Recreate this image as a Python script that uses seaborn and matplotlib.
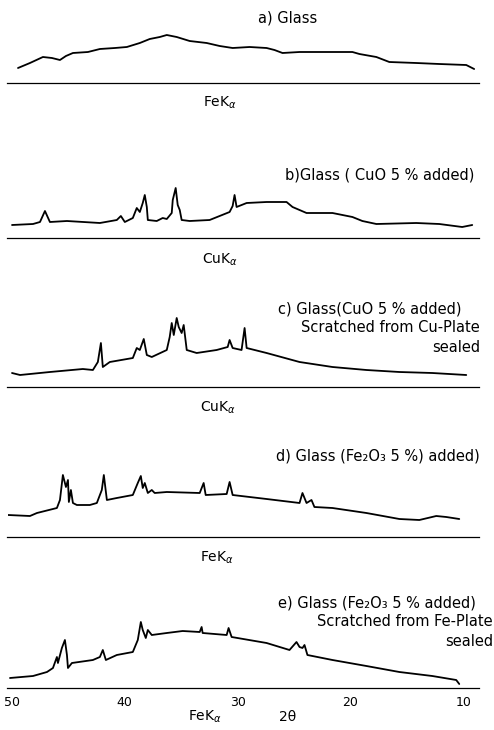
import matplotlib
matplotlib.use("Agg")
import matplotlib.pyplot as plt
import seaborn as sns
import pandas as pd

# 2-theta (deg) and relative intensity (arb. units)
a_tt = [49.47, 48.41, 47.26, 46.46, 45.75, 45.22, 44.60, 43.27, 42.21, 40.88, 39.82, 38.67, 37.79,
        36.90, 36.28, 35.84, 35.40, 34.25, 32.74, 31.59, 30.44, 28.94, 27.43, 26.73, 26.02, 24.51,
        23.01, 21.42, 19.82, 19.20, 17.70, 16.55, 14.16, 12.12, 9.73, 9.03]
a_int = [15, 20, 26, 25, 23, 27, 30, 31, 34, 35, 36, 40, 44,
         46, 48, 47, 46, 42, 40, 37, 35, 36, 35, 33, 30, 31,
         31, 31, 31, 29, 26, 21, 20, 19, 18, 14]

b_tt = [50.00, 48.14, 47.52, 47.08, 46.64, 45.13, 42.21, 40.71, 40.35, 40.00, 39.29, 38.94, 38.67,
        38.41, 38.23, 38.05, 37.96, 37.17, 36.64, 36.28, 35.84, 35.75, 35.49, 35.31, 35.13, 34.96,
        34.25, 32.48, 30.71, 30.44, 30.27, 30.09, 29.20, 27.43, 25.66, 25.13, 23.89, 21.59, 19.82,
        18.94, 17.70, 14.16, 12.12, 10.09, 9.20]
b_int = [13, 14, 16, 27, 16, 17, 15, 18, 22, 16, 20, 30, 26,
         35, 43, 31, 18, 17, 20, 19, 25, 38, 50, 33, 28, 18,
         17, 18, 26, 32, 43, 31, 35, 36, 36, 31, 25, 25, 21,
         17, 14, 15, 14, 11, 13]

c_tt = [50.00, 49.29, 46.64, 43.72, 42.83, 42.39, 42.12, 41.95, 41.33, 39.29, 38.94, 38.67, 38.32,
        38.05, 37.61, 36.28, 36.02, 35.84, 35.66, 35.40, 35.22, 34.96, 34.78, 34.51, 33.63, 31.86,
        30.88, 30.71, 30.44, 29.65, 29.38, 29.20, 27.43, 24.51, 21.59, 18.58, 15.66, 12.74, 9.73]
c_int = [14, 12, 15, 18, 17, 25, 44, 20, 25, 29, 39, 37, 48,
         32, 30, 37, 50, 64, 52, 69, 60, 54, 62, 37, 34, 37,
         40, 47, 39, 37, 59, 39, 34, 25, 20, 17, 15, 14, 12]

d_tt = [50.35, 48.41, 47.79, 46.02, 45.75, 45.49, 45.22, 45.04, 44.96, 44.78, 44.60, 44.25, 43.10,
        42.48, 42.04, 41.86, 41.59, 40.71, 39.29, 38.85, 38.58, 38.41, 38.23, 37.96, 37.61, 37.35,
        36.28, 33.36, 33.01, 32.83, 30.97, 30.71, 30.44, 27.43, 24.51, 24.25, 23.89, 23.45, 23.19,
        21.59, 18.58, 15.66, 13.89, 12.39, 11.50, 10.35]
d_int = [22, 21, 24, 29, 37, 62, 50, 57, 35, 47, 34, 32, 32,
         34, 47, 62, 37, 39, 42, 54, 61, 49, 54, 44, 47, 44,
         45, 44, 54, 42, 43, 55, 42, 38, 34, 44, 34, 37, 30,
         29, 24, 18, 17, 21, 20, 18]

e_tt = [50.18, 48.14, 46.90, 46.37, 46.02, 45.93, 45.58, 45.31, 45.13, 45.04, 44.69, 42.83, 42.21,
        41.95, 41.68, 40.71, 39.29, 38.85, 38.58, 38.41, 38.14, 37.96, 37.61, 36.28, 34.87, 33.36,
        33.19, 33.10, 30.97, 30.80, 30.53, 27.43, 25.40, 24.78, 24.51, 24.25, 24.07, 23.81, 21.59,
        18.58, 15.66, 12.74, 10.62, 10.35]
e_int = [10, 12, 16, 20, 31, 25, 40, 48, 33, 20, 25, 28, 31,
         38, 28, 33, 36, 48, 66, 58, 50, 58, 53, 55, 57, 56,
         61, 55, 53, 60, 51, 45, 38, 46, 41, 40, 43, 33, 28,
         22, 16, 12, 8, 4]

tick_vals = [50, 40, 30, 20, 10]

W, H = 494, 730
sns.set_style("white")
plt.rcParams['font.family'] = ['DejaVu Sans']
plt.rcParams['text.color'] = 'black'
plt.rcParams['xtick.color'] = 'black'
fig = plt.figure(figsize=(W / 100, H / 100), dpi=100)


def ftext(x, y, s, **kw):
    fig.text(x / W, 1 - y / H, s, color="black", **kw)


def panel(tt, inten, base, height, last=False):
    ax = fig.add_axes([7.5 / W, (H - base) / H, 471.5 / W, height / H])
    df = pd.DataFrame({"two_theta": tt, "intensity": inten})
    sns.lineplot(data=df, x="two_theta", y="intensity", ax=ax, color="black", lw=1.3)
    ax.set_xlim(50.4, 8.6)
    ax.set_ylim(0, height)
    for s in ["top", "left", "right"]:
        ax.spines[s].set_visible(False)
    ax.spines["bottom"].set_linewidth(0.9)
    ax.spines["bottom"].set_color("black")
    ax.set_yticks([])
    ax.set_xticks(tick_vals)
    ax.tick_params(axis="x", direction="in", length=5, width=0.9, color="black",
                   labelcolor="black", labelsize=9, pad=6, labelbottom=last)
    ax.set_xlabel("")
    ax.set_ylabel("")
    ax.patch.set_alpha(0)
    return ax


panel(a_tt, a_int, 83, 55)
panel(b_tt, b_int, 238, 55)
panel(c_tt, c_int, 387, 75)
panel(d_tt, d_int, 537, 70)
panel(e_tt, e_int, 688, 75, last=True)

fs = 10
ts = 10.5
ftext(258, 18, "a) Glass", fontsize=ts, ha="left", va="center")
ftext(220, 103, r"FeK$_{\alpha}$", fontsize=fs, ha="center", va="center")

ftext(474, 175, "b)Glass ( CuO 5 % added)", fontsize=ts, ha="right", va="center")
ftext(220, 260, r"CuK$_{\alpha}$", fontsize=fs, ha="center", va="center")

ftext(461, 309, "c) Glass(CuO 5 % added)", fontsize=ts, ha="right", va="center")
ftext(480, 328, "Scratched from Cu-Plate", fontsize=ts, ha="right", va="center")
ftext(480, 347, "sealed", fontsize=ts, ha="right", va="center")
ftext(218, 408, r"CuK$_{\alpha}$", fontsize=fs, ha="center", va="center")

ftext(480, 456, "d) Glass (Fe₂O₃ 5 %) added)", fontsize=ts, ha="right", va="center")
ftext(217, 558, r"FeK$_{\alpha}$", fontsize=fs, ha="center", va="center")

ftext(476, 603, "e) Glass (Fe₂O₃ 5 % added)", fontsize=ts, ha="right", va="center")
ftext(493, 622, "Scratched from Fe-Plate", fontsize=ts, ha="right", va="center")
ftext(493, 641, "sealed", fontsize=ts, ha="right", va="center")
ftext(205, 717, r"FeK$_{\alpha}$", fontsize=fs, ha="center", va="center")
ftext(288, 717, "2θ", fontsize=fs, ha="center", va="center")

fig.savefig("out.png", dpi=100)
